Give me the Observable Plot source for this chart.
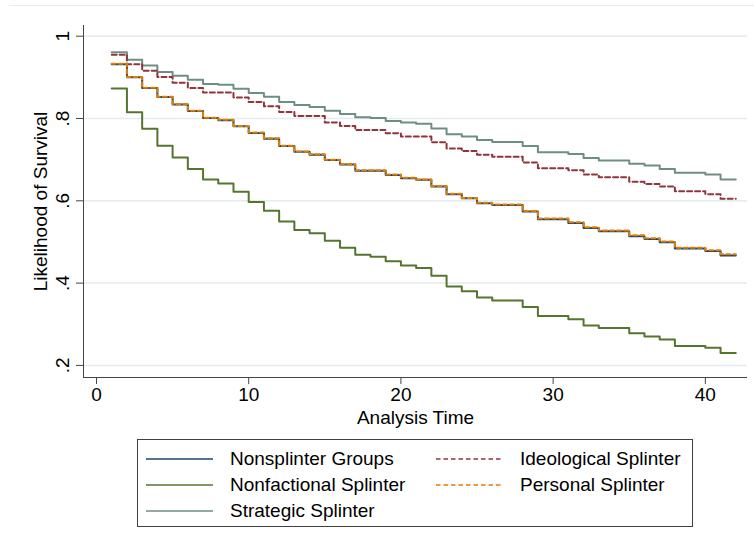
<!DOCTYPE html>
<html><head><meta charset="utf-8">
<script src="https://cdn.jsdelivr.net/npm/d3@7"></script>
<script src="https://cdn.jsdelivr.net/npm/@observablehq/plot@0.6"></script>
<style>
body{margin:0;background:#fff;font-family:"Liberation Sans",Arial,sans-serif;}
#wrap{position:relative;width:754px;height:552px;overflow:hidden;background:#fff;}
#chart{position:absolute;left:0;top:0;}
#topline{position:absolute;left:9px;top:5px;width:745px;height:1px;background:#e4ecee;}
#legend{position:absolute;left:137px;top:439px;width:554px;height:86px;border:1px solid #404040;background:#fff;}
.item{position:absolute;display:flex;align-items:center;height:24px;font-size:19px;color:#000;white-space:nowrap;}
.item span{margin-left:17px;}
</style></head><body>
<div id="wrap"><div id="topline"></div><div id="chart"></div><div id="legend"></div></div>
<script>
// Analysis time (step starts; final entry closes the last step)
const times = [1,2,3,4,5,6,7,8,9,10,11,12,13,14,15,16,17,18,19,20,21,22,23,24,25,26,27,28,29,30,31,32,33,34,35,36,37,38,39,40,41,42];

const nonsplinter = [0.932,0.900,0.874,0.852,0.834,0.818,0.801,0.796,0.781,0.765,0.751,0.733,0.719,0.712,0.699,0.688,0.673,0.673,0.663,0.655,0.651,0.635,0.616,0.606,0.594,0.590,0.590,0.574,0.555,0.555,0.546,0.534,0.526,0.526,0.514,0.507,0.499,0.484,0.484,0.478,0.467,0.467];
const nonfactional = [0.873,0.815,0.775,0.734,0.705,0.677,0.652,0.642,0.622,0.597,0.576,0.550,0.529,0.521,0.503,0.486,0.469,0.464,0.453,0.443,0.437,0.418,0.392,0.380,0.365,0.358,0.358,0.342,0.320,0.320,0.312,0.297,0.291,0.291,0.278,0.270,0.263,0.247,0.247,0.243,0.230,0.230];
const strategic = [0.961,0.943,0.929,0.913,0.904,0.894,0.884,0.882,0.872,0.862,0.853,0.840,0.833,0.828,0.819,0.811,0.803,0.801,0.794,0.790,0.787,0.776,0.762,0.756,0.748,0.743,0.743,0.733,0.718,0.718,0.714,0.704,0.698,0.698,0.690,0.686,0.677,0.668,0.668,0.664,0.652,0.652];
const ideological = [0.955,0.932,0.916,0.901,0.887,0.874,0.863,0.863,0.851,0.840,0.830,0.816,0.806,0.806,0.790,0.782,0.772,0.772,0.764,0.756,0.756,0.742,0.727,0.721,0.712,0.707,0.707,0.693,0.679,0.679,0.674,0.664,0.657,0.657,0.646,0.641,0.635,0.623,0.623,0.616,0.605,0.605];
const personal = [0.933,0.901,0.875,0.853,0.835,0.819,0.802,0.797,0.782,0.766,0.752,0.734,0.720,0.713,0.700,0.689,0.674,0.674,0.664,0.656,0.652,0.636,0.617,0.607,0.595,0.591,0.591,0.575,0.557,0.557,0.548,0.536,0.528,0.528,0.516,0.509,0.501,0.486,0.486,0.480,0.470,0.470];

const seriesNames = ["Nonsplinter Groups","Nonfactional Splinter","Strategic Splinter","Ideological Splinter","Personal Splinter"];
const seriesColors = ["#1a476f","#55752f","#6e8e84","#90353b","#e37e00"];

const xTicks = [0,10,20,30,40];
const yTicks = [0.2,0.4,0.6,0.8,1];
const yTickLabels = [".2",".4",".6",".8","1"];

const xDomain = [-0.854, 42.77];
const yDomain = [0.1706, 1.026];

const seriesValues = [nonsplinter, nonfactional, strategic, ideological, personal];
const tables = seriesValues.map(vals => times.map((t, i) => ({t, v: vals[i]})));
const dashes = [null, null, null, "5,3", "4,3"];
const drawOrder = [2, 3, 1, 0, 4];

const lineMarks = drawOrder.map(k => Plot.line(tables[k], {
  x: "t", y: "v", curve: "step-after",
  stroke: seriesColors[k], strokeWidth: 2,
  strokeDasharray: dashes[k] || undefined
}));

const chart = Plot.plot({
  width: 754, height: 430,
  marginLeft: 83, marginRight: 7, marginTop: 25, marginBottom: 53,
  style: {fontFamily: '"Liberation Sans", Arial, sans-serif', fontSize: "19px", color: "#000", background: "transparent"},
  x: {domain: xDomain},
  y: {domain: yDomain},
  marks: [
    Plot.ruleY(yTicks, {stroke: "#e3ebee", strokeWidth: 1.5}),
    ...lineMarks,
    Plot.ruleX([xDomain[0]], {stroke: "#444", strokeWidth: 1}),
    Plot.ruleY([yDomain[0]], {stroke: "#444", strokeWidth: 1}),
    Plot.axisX({ticks: xTicks, tickSize: 7, tickPadding: 3, label: null, stroke: "#444", fill: "#000"}),
    Plot.axisY({ticks: yTicks, tickSize: 7, tickFormat: () => "", label: null, stroke: "#444"}),
    Plot.text(yTicks, {y: d => d, text: (d, i) => yTickLabels[i], frameAnchor: "left", dx: -21, rotate: -90, textAnchor: "middle", lineAnchor: "middle", fill: "#000"}),
    Plot.text(["Likelihood of Survival"], {frameAnchor: "left", dx: -43, rotate: -90, textAnchor: "middle", lineAnchor: "middle", fill: "#000"}),
    Plot.text(["Analysis Time"], {frameAnchor: "bottom", dy: 40, textAnchor: "middle", lineAnchor: "middle", fill: "#000"})
  ]
});
document.getElementById("chart").appendChild(chart);

// Legend (Stata-style, two columns)
const legend = document.getElementById("legend");
const legendPos = [[0,0],[0,1],[0,2],[1,0],[1,1]];
const colX = [8, 298];
const rowY = [19, 45, 71];
seriesNames.forEach((name, k) => {
  const [c, r] = legendPos[k];
  const item = document.createElement("div");
  item.className = "item";
  item.style.left = colX[c] + "px";
  item.style.top = (rowY[r] - 12) + "px";
  const dash = dashes[k] ? ' stroke-dasharray="4.5,3"' : '';
  item.innerHTML = `<svg width="67" height="6"><line x1="0" y1="3" x2="67" y2="3" stroke="${seriesColors[k]}" stroke-width="1.5"${dash}/></svg><span>${name}</span>`;
  legend.appendChild(item);
});
</script>
</body></html>
